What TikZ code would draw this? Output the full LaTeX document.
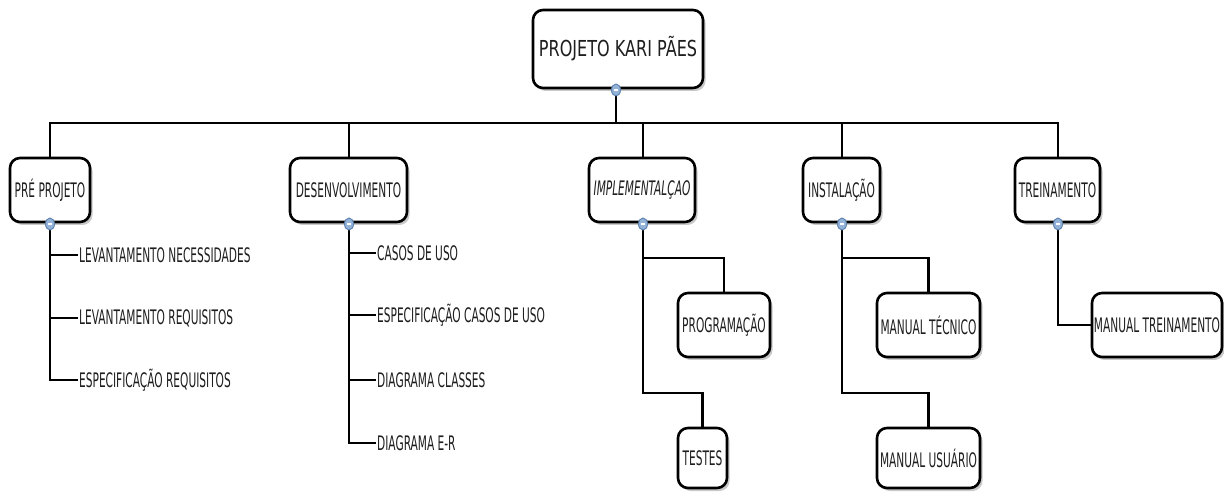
\documentclass[tikz,border=0pt]{standalone}
\usepackage{fontspec}
\setmainfont{DejaVu Sans}[FakeStretch=0.53]
\newfontfamily\rootfont{DejaVu Sans}[FakeStretch=0.73]
\usetikzlibrary{shadows,calc,shapes.geometric}
\definecolor{txt}{HTML}{1E1E1E}
\definecolor{knobfill}{HTML}{93B2D8}
\definecolor{knobdraw}{HTML}{5B7FAD}
\tikzset{
  mbox/.style={draw=black, line width=2.6pt, fill=white, rounded corners=10pt,
    text=txt, inner sep=0pt, font=\fontsize{20}{22}\selectfont,
    drop shadow={shadow xshift=2.5pt, shadow yshift=-3pt, opacity=0.35, fill=black!60}},
  leaf/.style={text=txt, inner sep=1pt, anchor=west, font=\fontsize{20}{22}\selectfont},
  conn/.style={draw=black, line width=2.6pt},
  knob/.style={ellipse, draw=knobdraw, fill=knobfill, line width=0.9pt, minimum width=9pt, minimum height=12pt, inner sep=0pt}
}
\newcommand{\knobat}[1]{%
  \node[knob] at (#1) {};
  \draw[white, line width=1.3pt] ($(#1)+(-2.4,0)$) -- ($(#1)+(2.4,0)$);}
\begin{document}
\begin{tikzpicture}[x=1pt, y=-1pt]
\useasboundingbox (0,0) rectangle (1224,494);
\fill[white] (0,0) rectangle (1224,494);

% bus coordinates
\coordinate (bus) at (0,123);
\coordinate (ib1) at (0,258);
\coordinate (ib2) at (0,393);

% connectors first (under boxes)
\coordinate (rootS) at (616,88);
\coordinate (preN) at (50,160);
\coordinate (desN) at (349,160);
\coordinate (impN) at (643,160);
\coordinate (insN) at (842,160);
\coordinate (treN) at (1058,160);

\draw[conn] (rootS) -- (rootS |- bus);
\draw[conn] (preN) -- (preN |- bus) -- (treN |- bus) -- (treN);
\draw[conn] (desN |- bus) -- (desN);
\draw[conn] (impN |- bus) -- (impN);
\draw[conn] (insN |- bus) -- (insN);

% boxes
\node[mbox, minimum width=170pt, minimum height=78pt, font=\rootfont\fontsize{22}{26}\selectfont] (root) at (618,49) {PROJETO KARI PÃES};
\node[mbox, minimum width=80pt, minimum height=64pt] (pre) at (50,190) {PRÉ PROJETO};
\node[mbox, minimum width=117pt, minimum height=64pt] (des) at (348.5,190) {DESENVOLVIMENTO};
\node[mbox, minimum width=106pt, minimum height=64pt, font=\fontsize{20}{22}\selectfont\itshape] (imp) at (642,190) {IMPLEMENTALÇAO};
\node[mbox, minimum width=77pt, minimum height=64pt] (ins) at (841.5,190) {INSTALAÇÃO};
\node[mbox, minimum width=85pt, minimum height=64pt] (tre) at (1057.5,190) {TREINAMENTO};

\node[mbox, minimum width=92pt, minimum height=64pt] (prog) at (724,325) {PROGRAMAÇÃO};
\node[mbox, minimum width=49pt, minimum height=60pt] (tes) at (702.5,458) {TESTES};
\node[mbox, minimum width=103pt, minimum height=64pt] (mtec) at (928.5,325) {MANUAL TÉCNICO};
\node[mbox, minimum width=103pt, minimum height=60pt] (musu) at (928.5,458) {MANUAL USUÁRIO};
\node[mbox, minimum width=130pt, minimum height=64pt] (mtre) at (1157,325) {MANUAL TREINAMENTO};

% leaf texts
\node[leaf] (p1) at (78,255) {LEVANTAMENTO NECESSIDADES};
\node[leaf] (p2) at (78,318) {LEVANTAMENTO REQUISITOS};
\node[leaf] (p3) at (78,380) {ESPECIFICAÇÃO REQUISITOS};
\node[leaf] (d1) at (376,253) {CASOS DE USO};
\node[leaf] (d2) at (376,315) {ESPECIFICAÇÃO CASOS DE USO};
\node[leaf] (d3) at (376,380) {DIAGRAMA CLASSES};
\node[leaf] (d4) at (376,443) {DIAGRAMA E-R};

% child connectors
\coordinate (preS) at (50,223);
\coordinate (desS) at (349,223);
\coordinate (impS) at (643,223);
\coordinate (insS) at (842,223);
\coordinate (treS) at (1058,223);

\draw[conn] (preS) |- (p3.west);
\draw[conn] (preS |- p1.west) -- (p1.west);
\draw[conn] (preS |- p2.west) -- (p2.west);

\draw[conn] (desS) |- (d4.west);
\draw[conn] (desS |- d1.west) -- (d1.west);
\draw[conn] (desS |- d2.west) -- (d2.west);
\draw[conn] (desS |- d3.west) -- (d3.west);

\draw[conn] (impS) |- (ib2 -| tes.north) -- (tes.north);
\draw[conn] (impS |- ib1) -| (prog.north);

\draw[conn] (insS) |- (ib2 -| musu.north) -- (musu.north);
\draw[conn] (insS |- ib1) -| (mtec.north);

\draw[conn] (treS) |- (mtre.west);

% collapse knobs
\knobat{616,90}
\knobat{50,224}
\knobat{349,224}
\knobat{643,224}
\knobat{842,224}
\knobat{1058,224}
\end{tikzpicture}
\end{document}
